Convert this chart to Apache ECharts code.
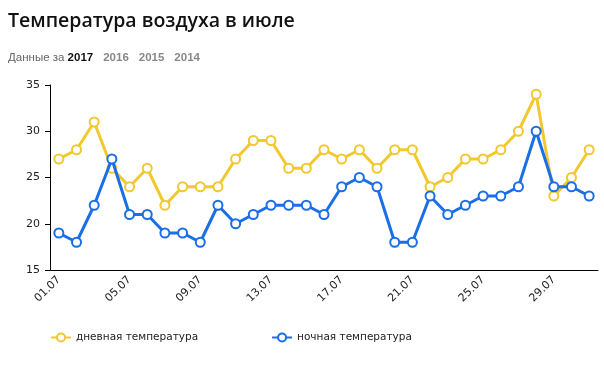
<!DOCTYPE html>
<html><head><meta charset="utf-8">
<script src="https://cdn.jsdelivr.net/npm/echarts@6/dist/echarts.min.js"></script>
<style>html,body{margin:0;padding:0;background:#fff}#c{width:604px;height:367px}</style>
</head><body><div id="c"></div>
<script>
const categories = ['01.07','02.07','03.07','04.07','05.07','06.07','07.07','08.07','09.07','10.07','11.07','12.07','13.07','14.07','15.07','16.07','17.07','18.07','19.07','20.07','21.07','22.07','23.07','24.07','25.07','26.07','27.07','28.07','29.07','30.07','31.07'];
const dayTemp = [27,28,31,26,24,26,22,24,24,24,27,29,29,26,26,28,27,28,26,28,28,24,25,27,27,28,30,34,23,25,28];
const nightTemp = [19,18,22,27,21,21,19,19,18,22,20,21,22,22,22,21,24,25,24,18,18,23,21,22,23,23,24,30,24,24,23];
const yTicks = {min:15, max:35, interval:5};
const years = ['2017','2016','2015','2014'];

const chart = echarts.init(document.getElementById('c'), null, {renderer:'canvas'});
chart.setOption({
  animation:false,
  title:[{
    text:'Температура воздуха в июле',
    left:8, top:11, padding:0,
    textStyle:{fontFamily:'Open Sans', fontSize:19.5, fontWeight:600, color:'#111'}
  },{
    text:'{a|Данные за }{b|'+years[0]+'}  {c|'+years[1]+'}  {c|'+years[2]+'}  {c|'+years[3]+'}',
    left:8, top:49, padding:0,
    textStyle:{fontWeight:'normal', rich:{
      a:{fontFamily:'Arial', fontSize:11.5, fontWeight:'normal', color:'#666'},
      b:{fontFamily:'Arial', fontSize:11.5, fontWeight:'bold', color:'#111'},
      c:{fontFamily:'Arial', fontSize:11.5, fontWeight:'bold', color:'#888'}
    }}
  }],
  legend:{
    left:50, top:332, padding:0, itemGap:73, itemWidth:20, itemHeight:10,
    textStyle:{fontFamily:'DejaVu Sans', fontSize:10.5, color:'#222'},
    data:['дневная температура','ночная температура']
  },
  grid:{left:50, right:6, top:85, bottom:97},
  xAxis:{
    type:'category', data:categories, boundaryGap:true,
    axisLine:{lineStyle:{color:'#000', width:1}},
    axisTick:{interval:3, alignWithLabel:true, length:5, lineStyle:{color:'#000'}},
    axisLabel:{interval:3, rotate:45, fontFamily:'DejaVu Sans', fontSize:11, color:'#222', margin:8}
  },
  yAxis:{
    type:'value', min:yTicks.min, max:yTicks.max, interval:yTicks.interval,
    axisLine:{show:true, lineStyle:{color:'#000', width:1}},
    axisTick:{show:true, length:5, lineStyle:{color:'#000'}},
    splitLine:{show:false},
    axisLabel:{fontFamily:'DejaVu Sans', fontSize:11, color:'#222', margin:10}
  },
  series:[{
    name:'дневная температура', type:'line', data:dayTemp,
    symbol:'emptyCircle', symbolSize:9,
    lineStyle:{color:'#F2C830', width:3},
    itemStyle:{color:'#F2C830', borderWidth:2.5},
    z:2
  },{
    name:'ночная температура', type:'line', data:nightTemp,
    symbol:'emptyCircle', symbolSize:9,
    lineStyle:{color:'#1A6EE8', width:3},
    itemStyle:{color:'#1A6EE8', borderWidth:2.5},
    z:3
  }]
});
</script></body></html>
